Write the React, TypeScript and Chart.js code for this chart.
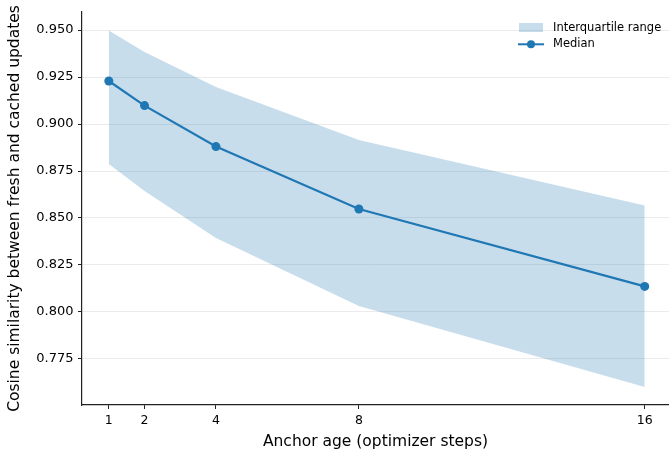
import React, { useEffect, useRef } from "react";
import { Chart, registerables } from "chart.js";

Chart.register(...registerables);

const anchorAges = [1, 2, 4, 8, 16];
const medianValues = [0.9229, 0.9098, 0.888, 0.8548, 0.8136];
const upperQuartile = [0.9497, 0.9383, 0.9197, 0.8915, 0.8566];
const lowerQuartile = [0.8787, 0.8644, 0.8394, 0.8032, 0.7601];
const xTickValues = [1, 2, 4, 8, 16];
const yTickValues = [0.775, 0.8, 0.825, 0.85, 0.875, 0.9, 0.925, 0.95];

const FONT = "'DejaVu Sans', sans-serif";
const BLUE = "#1f77b4";
const BAND = "rgba(31,119,180,0.25)";

const legendPlugin = {
  id: "customLegend",
  afterDraw(chart: any) {
    const ctx = chart.ctx;
    ctx.save();
    ctx.fillStyle = BAND;
    ctx.fillRect(519, 23, 24, 9);
    ctx.strokeStyle = BLUE;
    ctx.lineWidth = 2;
    ctx.beginPath();
    ctx.moveTo(518, 44.3);
    ctx.lineTo(544, 44.3);
    ctx.stroke();
    ctx.fillStyle = BLUE;
    ctx.beginPath();
    ctx.arc(531, 44.3, 4, 0, Math.PI * 2);
    ctx.fill();
    ctx.fillStyle = "#000";
    ctx.font = `11.5px ${FONT}`;
    ctx.textBaseline = "middle";
    ctx.textAlign = "left";
    ctx.fillText("Interquartile range", 553, 27.7);
    ctx.fillText("Median", 553, 44.3);
    ctx.restore();
  },
};

export default function App() {
  const ref = useRef<HTMLCanvasElement>(null);
  useEffect(() => {
    if (!ref.current) return;
    const chart = new Chart(ref.current, {
      type: "line",
      data: {
        datasets: [
          {
            label: "Median",
            data: anchorAges.map((x, i) => ({ x, y: medianValues[i] })),
            borderColor: BLUE,
            backgroundColor: BLUE,
            borderWidth: 2.2,
            pointRadius: 4.5,
            pointBackgroundColor: BLUE,
            pointBorderWidth: 0,
            fill: false,
            tension: 0,
            clip: false,
          },
          {
            label: "Upper",
            data: anchorAges.map((x, i) => ({ x, y: upperQuartile[i] })),
            borderWidth: 0,
            borderColor: "rgba(0,0,0,0)",
            pointRadius: 0,
            backgroundColor: BAND,
            fill: "+1",
            tension: 0,
          },
          {
            label: "Lower",
            data: anchorAges.map((x, i) => ({ x, y: lowerQuartile[i] })),
            borderWidth: 0,
            borderColor: "rgba(0,0,0,0)",
            pointRadius: 0,
            backgroundColor: BAND,
            fill: false,
            tension: 0,
          },
        ],
      },
      options: {
        animation: false,
        responsive: false,
        maintainAspectRatio: false,
        layout: { autoPadding: false, padding: { top: 12, left: 0, right: 0, bottom: 0 } },
        plugins: {
          legend: { display: false },
          tooltip: { enabled: false },
        },
        scales: {
          x: {
            type: "linear",
            min: 0.25,
            max: 16.68,
            afterBuildTicks: (s: any) => {
              s.ticks = xTickValues.map((v) => ({ value: v }));
            },
            afterFit: (s: any) => {
              s.height = 46;
              s.paddingRight = 0;
              s.paddingLeft = 0;
            },
            ticks: {
              autoSkip: false,
              maxRotation: 0,
              padding: 4,
              color: "#000",
              font: { family: FONT, size: 12.5 },
              callback: (v: any) => String(v),
            },
            grid: {
              drawOnChartArea: false,
              drawTicks: true,
              tickLength: 4,
              tickColor: "#222",
              tickWidth: 1,
            },
            border: { display: true, color: "#222", width: 1.2 },
            title: {
              display: true,
              text: "Anchor age (optimizer steps)",
              color: "#000",
              font: { family: FONT, size: 15.5 },
              padding: { top: 0, bottom: 0 },
            },
          },
          y: {
            type: "linear",
            min: 0.7505,
            max: 0.9596,
            afterBuildTicks: (s: any) => {
              s.ticks = yTickValues.map((v) => ({ value: v }));
            },
            afterFit: (s: any) => {
              s.width = 82;
              s.paddingTop = 0;
              s.paddingBottom = 0;
            },
            ticks: {
              autoSkip: false,
              padding: 4.5,
              color: "#000",
              font: { family: FONT, size: 13 },
              callback: (v: any) => Number(v).toFixed(3),
            },
            grid: {
              drawOnChartArea: true,
              color: "#ebebeb",
              lineWidth: 1,
              drawTicks: true,
              tickLength: 4,
              tickColor: "#222",
              tickWidth: 1,
            },
            border: { display: true, color: "#222", width: 1.2 },
            title: {
              display: true,
              text: "Cosine similarity between fresh and cached updates",
              color: "#000",
              font: { family: FONT, size: 15.5 },
              padding: { top: 6, bottom: 0 },
            },
          },
        },
      },
      plugins: [legendPlugin],
    } as any);
    return () => chart.destroy();
  }, []);
  return (
    <div style={{ position: "fixed", left: 0, top: 0, width: 669, height: 451, background: "#fff" }}>
      <canvas ref={ref} width={669} height={451} style={{ width: 669, height: 451, display: "block" }} />
    </div>
  );
}
